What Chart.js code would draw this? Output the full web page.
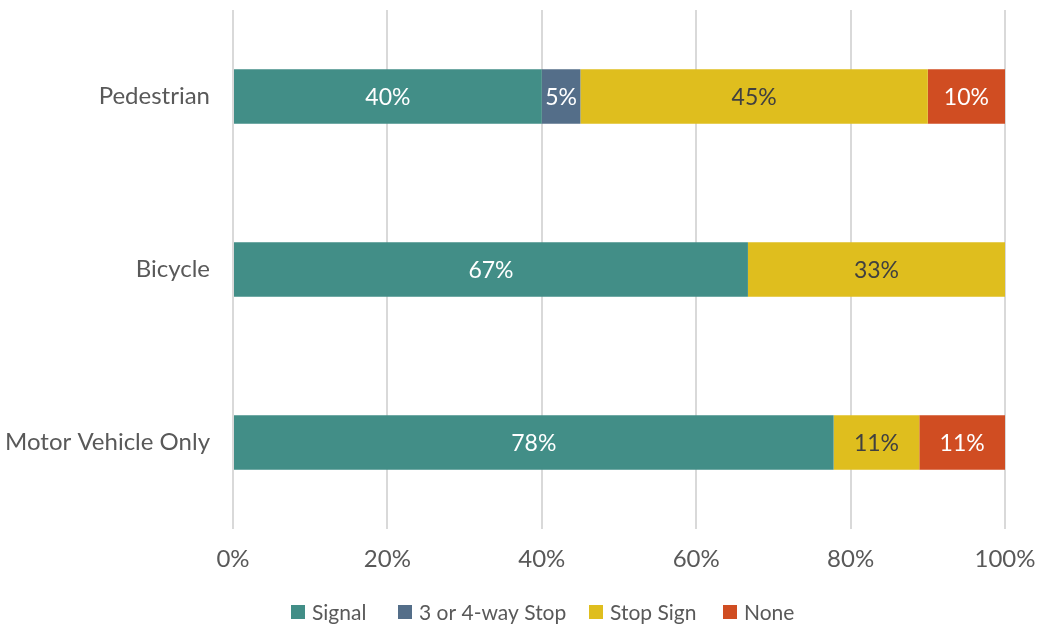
<!DOCTYPE html>
<html>
<head>
<meta charset="utf-8">
<script src="https://cdn.jsdelivr.net/npm/chart.js@4/dist/chart.umd.min.js"></script>
<style>
  html, body { margin: 0; padding: 0; background: #fff; }
  #wrap { width: 1042px; height: 628px; position: relative; }
</style>
</head>
<body>
<div id="wrap"><canvas id="chart" width="1042" height="628"></canvas></div>
<script>
const categories = ['Pedestrian', 'Bicycle', 'Motor Vehicle Only'];
const signal = [40, 66.7, 77.8];
const fourWayStop = [5, 0, 0];
const stopSign = [45, 33.3, 11.1];
const none = [10, 0, 11.1];
const xTicks = [0, 20, 40, 60, 80, 100];

const FONT = 'Lato, "Open Sans", sans-serif';
const GREY = '#595959';

// % label in the middle of every non-zero segment
const segmentLabels = {
  id: 'segmentLabels',
  afterDatasetsDraw(chart) {
    const ctx = chart.ctx;
    ctx.save();
    ctx.font = '23px ' + FONT;
    ctx.textAlign = 'center';
    ctx.textBaseline = 'middle';
    chart.data.datasets.forEach((ds, i) => {
      chart.getDatasetMeta(i).data.forEach((bar, j) => {
        const v = ds.data[j];
        if (!v) return;
        const p = bar.getProps(['x', 'y', 'base'], true);
        ctx.fillStyle = ds.labelColor;
        ctx.fillText(Math.round(v) + '%', (p.x + p.base) / 2, p.y + 1);
      });
    });
    ctx.restore();
  }
};

// Excel-style legend row under the axis
const legendSlots = [291, 398, 589, 723];
const bottomLegend = {
  id: 'bottomLegend',
  afterDraw(chart) {
    const ctx = chart.ctx;
    const y = 612;
    ctx.save();
    ctx.font = '21px ' + FONT;
    ctx.textBaseline = 'middle';
    chart.data.datasets.forEach((ds, i) => {
      const x = legendSlots[i];
      ctx.fillStyle = ds.backgroundColor;
      ctx.fillRect(x, y - 7, 14, 14);
      ctx.fillStyle = GREY;
      ctx.fillText(ds.label, x + 21, y + 1);
    });
    ctx.restore();
  }
};

new Chart(document.getElementById('chart'), {
  type: 'bar',
  data: {
    labels: categories,
    datasets: [
      { label: 'Signal', data: signal, backgroundColor: '#428E87', labelColor: '#ffffff' },
      { label: '3 or 4-way Stop', data: fourWayStop, backgroundColor: '#546E89', labelColor: '#ffffff' },
      { label: 'Stop Sign', data: stopSign, backgroundColor: '#DFBE1E', labelColor: '#404040' },
      { label: 'None', data: none, backgroundColor: '#D04D22', labelColor: '#ffffff' }
    ]
  },
  options: {
    indexAxis: 'y',
    responsive: false,
    animation: false,
    devicePixelRatio: 1,
    layout: { padding: { top: 10, right: 37, left: 0, bottom: 44 } },
    datasets: { bar: { categoryPercentage: 1, barPercentage: 0.315, borderWidth: 0 } },
    scales: {
      x: {
        stacked: true,
        min: 0, max: 100,
        afterBuildTicks: (s) => { s.ticks = xTicks.map(v => ({ value: v })); },
        ticks: { color: GREY, font: { family: FONT, size: 24 }, padding: 16, callback: (v) => v + '%' },
        grid: { color: '#D9D9D9', lineWidth: 2, drawTicks: false },
        border: { display: false },
        afterFit: (s) => { s.height = 55; s.paddingLeft = 0; s.paddingRight = 0; }
      },
      y: {
        stacked: true,
        ticks: { color: GREY, font: { family: FONT, size: 24 }, padding: 15 },
        grid: { display: false },
        border: { display: false },
        afterFit: (s) => { s.width = 233; s.paddingTop = 0; s.paddingBottom = 0; }
      }
    },
    plugins: {
      legend: { display: false },
      tooltip: { enabled: false }
    }
  },
  plugins: [segmentLabels, bottomLegend]
});
</script>
</body>
</html>
